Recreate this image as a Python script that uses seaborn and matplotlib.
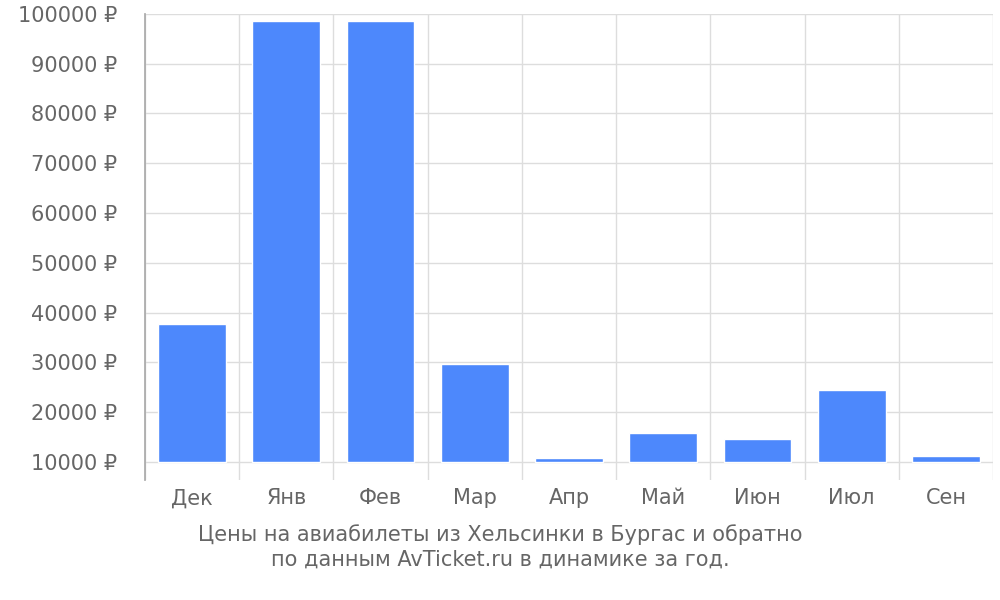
import matplotlib
matplotlib.use("Agg")
import matplotlib.pyplot as plt
import seaborn as sns
import pandas as pd

months = ["Дек", "Янв", "Фев", "Мар", "Апр", "Май", "Июн", "Июл", "Сен"]
prices = [37800, 98500, 98500, 29700, 10800, 15800, 14600, 24400, 11200]
base = 10000
yticks = list(range(10000, 100001, 10000))

sns.set_theme(style="white")
plt.rcParams['font.family'] = ['DejaVu Sans']
fig = plt.figure(figsize=(10, 6), dpi=100)
ax = fig.add_axes([0.145, 0.2, 0.848, 0.777])

df = pd.DataFrame({"m": months, "h": [p - base for p in prices]})
sns.barplot(data=df, x="m", y="h", bottom=base, color="#4d88fc", saturation=1,
            width=0.72, ax=ax)

ax.set_xlim(-0.5, len(months) - 0.5)
ax.set_ylim(6400, 100000)
ax.set_yticks(yticks)
ax.set_yticklabels([f"{v} ₽" for v in yticks], color="#666666", fontsize=15)
ax.tick_params(axis="x", colors="#666666", labelsize=15, length=0, pad=6)
ax.tick_params(axis="y", length=0, pad=20)
for v in yticks:
    ax.axhline(v, color="#dddddd", lw=1, zorder=0)
for i in range(len(months) + 1):
    ax.axvline(i - 0.5, color="#dddddd", lw=1, zorder=0)
ax.set_xlabel("")
ax.set_ylabel("")
for s in ["top", "right", "bottom"]:
    ax.spines[s].set_visible(False)
ax.spines["left"].set_color("#aaaaaa")

fig.text(0.5, 0.088, "Цены на авиабилеты из Хельсинки в Бургас и обратно\nпо данным AvTicket.ru в динамике за год.",
         ha="center", va="center", color="#666666", fontsize=15, linespacing=1.3)
fig.savefig("out.png")
